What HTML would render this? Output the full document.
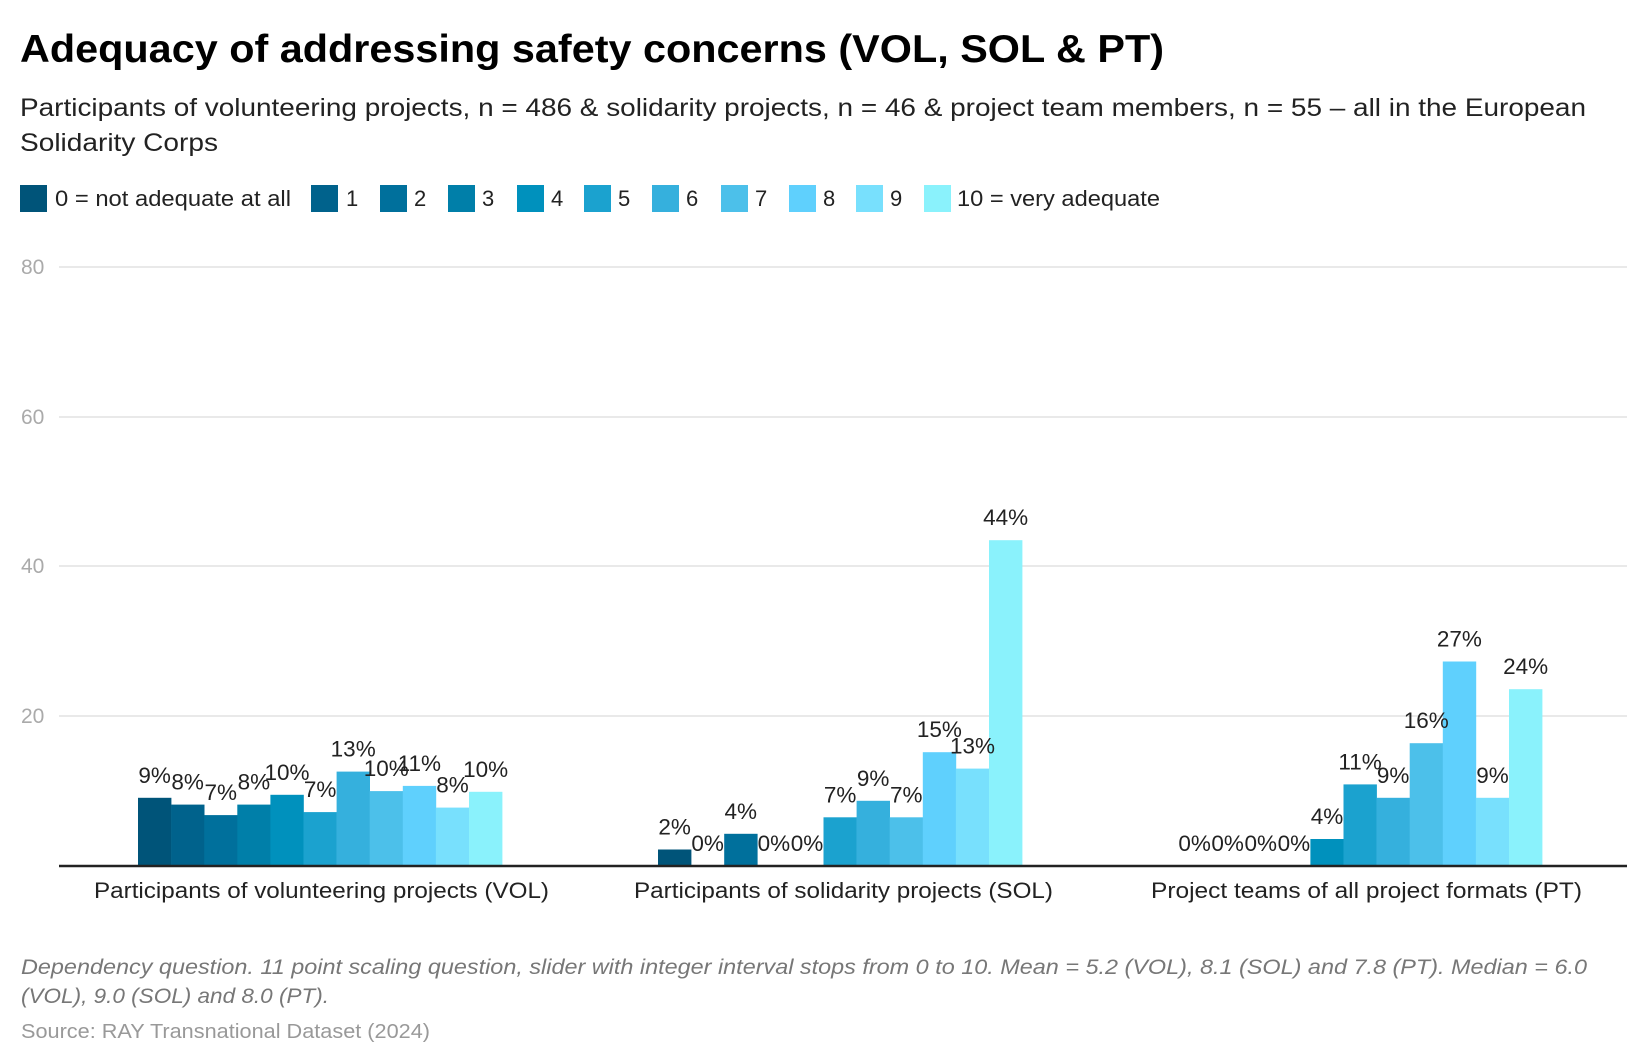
<!DOCTYPE html>
<html><head><meta charset="utf-8"><style>
html,body{margin:0;padding:0;background:#fff;}
svg{display:block;font-family:"Liberation Sans",sans-serif;}
</style></head><body>
<svg width="1640" height="1064" viewBox="0 0 1640 1064" xmlns="http://www.w3.org/2000/svg">
<text x="20" y="62" font-size="39" font-weight="bold" fill="#000" textLength="1144" lengthAdjust="spacingAndGlyphs">Adequacy of addressing safety concerns (VOL, SOL &amp; PT)</text>
<text x="20" y="116" font-size="25" fill="#222" textLength="1566" lengthAdjust="spacingAndGlyphs">Participants of volunteering projects, n = 486 &amp; solidarity projects, n = 46 &amp; project team members, n = 55 – all in the European</text>
<text x="20" y="151" font-size="25" fill="#222" textLength="198" lengthAdjust="spacingAndGlyphs">Solidarity Corps</text>
<g font-size="22" fill="#222">
<rect x="20" y="185" width="27" height="27" fill="#005479"/><text x="55" y="206" textLength="236" lengthAdjust="spacingAndGlyphs">0 = not adequate at all</text>
<rect x="311" y="185" width="27" height="27" fill="#00628c"/><text x="346" y="206">1</text>
<rect x="380" y="185" width="27" height="27" fill="#00709c"/><text x="414" y="206">2</text>
<rect x="448" y="185" width="27" height="27" fill="#007fa9"/><text x="482" y="206">3</text>
<rect x="517" y="185" width="27" height="27" fill="#0091bd"/><text x="551" y="206">4</text>
<rect x="584" y="185" width="27" height="27" fill="#1ba2cf"/><text x="618" y="206">5</text>
<rect x="652" y="185" width="27" height="27" fill="#35b0dd"/><text x="686" y="206">6</text>
<rect x="721" y="185" width="27" height="27" fill="#4cc0ea"/><text x="755" y="206">7</text>
<rect x="789" y="185" width="27" height="27" fill="#5fd0fd"/><text x="823" y="206">8</text>
<rect x="856" y="185" width="27" height="27" fill="#78e0fd"/><text x="890" y="206">9</text>
<rect x="924" y="185" width="27" height="27" fill="#8af2fc"/><text x="957" y="206" textLength="203" lengthAdjust="spacingAndGlyphs">10 = very adequate</text>
</g>
<g stroke="#e2e2e2" stroke-width="1.5">
<line x1="59" y1="267" x2="1627" y2="267"/><line x1="59" y1="417" x2="1627" y2="417"/>
<line x1="59" y1="566" x2="1627" y2="566"/><line x1="59" y1="716" x2="1627" y2="716"/>
</g>
<g font-size="21" fill="#aaa">
<text x="21" y="274">80</text><text x="21" y="424">60</text><text x="21" y="573">40</text><text x="21" y="723">20</text>
</g>
<g>
<rect x="138" y="797.8" width="33.4" height="68.2" fill="#005479"/>
<rect x="171.1" y="804.6" width="33.4" height="61.4" fill="#00628c"/>
<rect x="204.2" y="815.1" width="33.4" height="50.9" fill="#00709c"/>
<rect x="237.3" y="804.6" width="33.4" height="61.4" fill="#007fa9"/>
<rect x="270.4" y="794.8" width="33.4" height="71.2" fill="#0091bd"/>
<rect x="303.5" y="812.1" width="33.4" height="53.9" fill="#1ba2cf"/>
<rect x="336.6" y="771.6" width="33.4" height="94.4" fill="#35b0dd"/>
<rect x="369.7" y="791.1" width="33.4" height="74.9" fill="#4cc0ea"/>
<rect x="402.8" y="785.9" width="33.4" height="80.1" fill="#5fd0fd"/>
<rect x="435.9" y="807.6" width="33.4" height="58.4" fill="#78e0fd"/>
<rect x="469" y="791.8" width="33.4" height="74.2" fill="#8af2fc"/>
<g font-size="22.5" fill="#222" text-anchor="middle" transform="translate(0,-7)">
<text x="154.6" y="789.8">9%</text><text x="187.7" y="796.6">8%</text><text x="220.8" y="807.1">7%</text>
<text x="253.9" y="796.6">8%</text><text x="287" y="786.8">10%</text><text x="320.1" y="804.1">7%</text>
<text x="353.2" y="763.6">13%</text><text x="386.3" y="783.1">10%</text><text x="419.4" y="777.9">11%</text>
<text x="452.5" y="799.6">8%</text><text x="485.6" y="783.8">10%</text>
</g>
</g>
<g transform="translate(-3,0)">
<rect x="661" y="849.5" width="33.4" height="16.5" fill="#005479"/>
<rect x="727.2" y="833.8" width="33.4" height="32.2" fill="#00709c"/>
<rect x="826.5" y="817.3" width="33.4" height="48.7" fill="#1ba2cf"/>
<rect x="859.6" y="800.8" width="33.4" height="65.2" fill="#35b0dd"/>
<rect x="892.7" y="817.3" width="33.4" height="48.7" fill="#4cc0ea"/>
<rect x="925.8" y="752.2" width="33.4" height="113.8" fill="#5fd0fd"/>
<rect x="958.9" y="768.6" width="33.4" height="97.4" fill="#78e0fd"/>
<rect x="992" y="540.2" width="33.4" height="325.8" fill="#8af2fc"/>
<g font-size="22.5" fill="#222" text-anchor="middle" transform="translate(0,-7)">
<text x="677.6" y="841.5">2%</text><text x="710.7" y="858">0%</text><text x="743.8" y="825.8">4%</text>
<text x="776.9" y="858">0%</text><text x="810" y="858">0%</text><text x="843.1" y="809.3">7%</text>
<text x="876.2" y="792.8">9%</text><text x="909.3" y="809.3">7%</text><text x="942.4" y="744.2">15%</text>
<text x="975.5" y="760.6">13%</text><text x="1008.6" y="532.2">44%</text>
</g>
</g>
<g transform="translate(-6,0)">
<rect x="1316.4" y="839" width="33.4" height="27" fill="#0091bd"/>
<rect x="1349.5" y="784.4" width="33.4" height="81.6" fill="#1ba2cf"/>
<rect x="1382.6" y="797.8" width="33.4" height="68.2" fill="#35b0dd"/>
<rect x="1415.7" y="743.2" width="33.4" height="122.8" fill="#4cc0ea"/>
<rect x="1448.8" y="661.5" width="33.4" height="204.5" fill="#5fd0fd"/>
<rect x="1481.9" y="797.8" width="33.4" height="68.2" fill="#78e0fd"/>
<rect x="1515" y="689.2" width="33.4" height="176.8" fill="#8af2fc"/>
<g font-size="22.5" fill="#222" text-anchor="middle" transform="translate(0,-7)">
<text x="1200.6" y="858">0%</text><text x="1233.7" y="858">0%</text><text x="1266.8" y="858">0%</text>
<text x="1299.9" y="858">0%</text><text x="1333" y="831">4%</text><text x="1366.1" y="776.4">11%</text>
<text x="1399.2" y="789.8">9%</text><text x="1432.3" y="735.2">16%</text><text x="1465.4" y="653.5">27%</text>
<text x="1498.5" y="789.8">9%</text><text x="1531.6" y="681.2">24%</text>
</g>
</g>
<line x1="59" y1="866" x2="1627" y2="866" stroke="#222" stroke-width="2.5"/>
<g font-size="22" fill="#222">
<text x="94" y="898" textLength="455" lengthAdjust="spacingAndGlyphs">Participants of volunteering projects (VOL)</text>
<text x="634" y="898" textLength="419" lengthAdjust="spacingAndGlyphs">Participants of solidarity projects (SOL)</text>
<text x="1151" y="898" textLength="431" lengthAdjust="spacingAndGlyphs">Project teams of all project formats (PT)</text>
</g>
<g font-size="21.5" fill="#777" font-style="italic">
<text x="21" y="974" textLength="1566" lengthAdjust="spacingAndGlyphs">Dependency question. 11 point scaling question, slider with integer interval stops from 0 to 10. Mean = 5.2 (VOL), 8.1 (SOL) and 7.8 (PT). Median = 6.0</text>
<text x="21" y="1003" textLength="308" lengthAdjust="spacingAndGlyphs">(VOL), 9.0 (SOL) and 8.0 (PT).</text>
</g>
<text x="21" y="1038" font-size="20.5" fill="#999" textLength="409" lengthAdjust="spacingAndGlyphs">Source: RAY Transnational Dataset (2024)</text>
</svg>
</body></html>
